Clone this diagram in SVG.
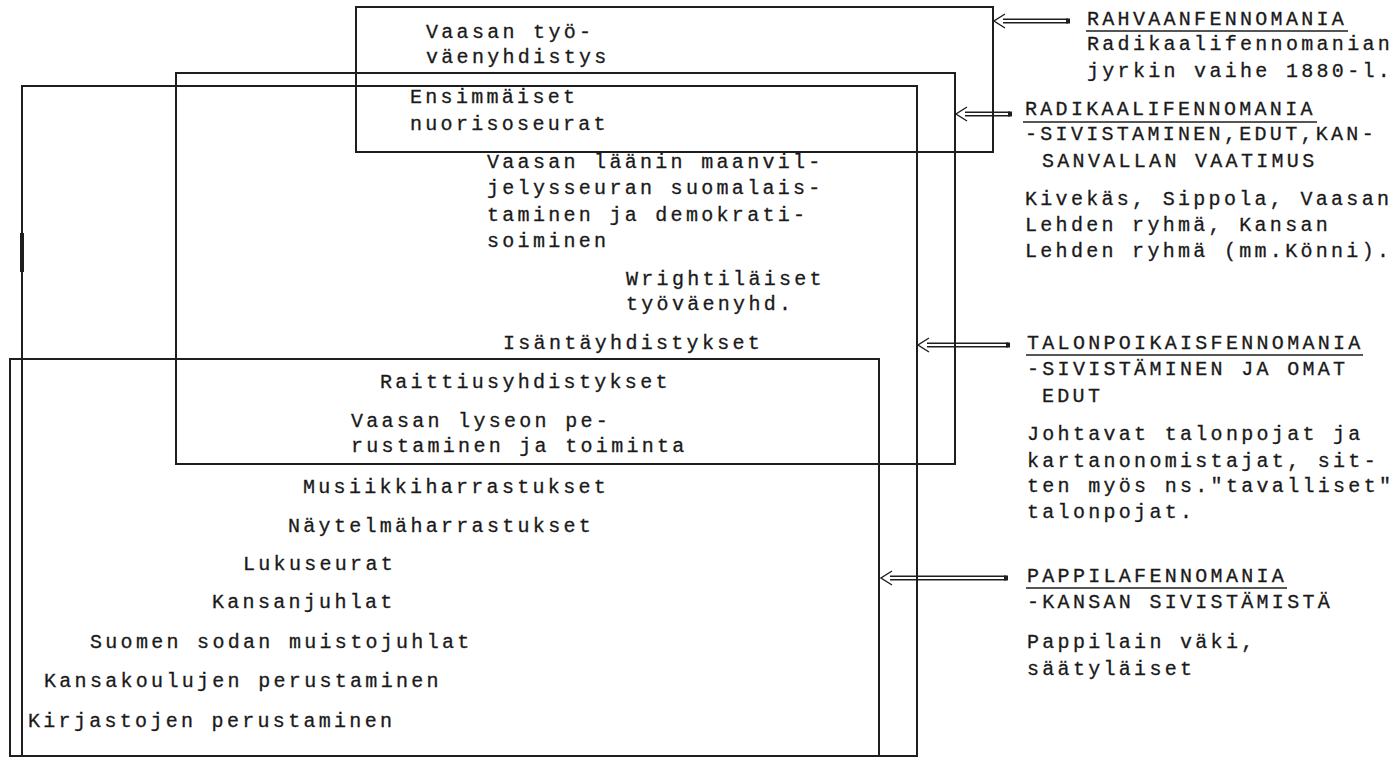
<svg xmlns="http://www.w3.org/2000/svg" width="1400" height="760" viewBox="0 0 1400 760">
<style>
  .box { fill: none; stroke: #1e1e1e; stroke-width: 2; }
  .t { font-family: "Liberation Mono", "DejaVu Sans Mono", monospace; font-size: 20px; letter-spacing: 3.3px; fill: #1a1a1a; stroke: #1a1a1a; stroke-width: 0.3; }
  .ul { stroke: #1e1e1e; stroke-width: 1.6; }
  .arr { fill: none; stroke: #1e1e1e; stroke-width: 1.4; }
  .tail { fill: #1e1e1e; }
</style>
<rect width="1400" height="760" fill="#ffffff"/>

<g id="pappilafennomania">
  <rect class="box" x="10" y="359" width="869" height="397"/>
  <text class="t" x="303" y="493">Musiikkiharrastukset</text>
  <text class="t" x="288" y="532">Näytelmäharrastukset</text>
  <text class="t" x="243" y="570">Lukuseurat</text>
  <text class="t" x="212" y="608">Kansanjuhlat</text>
  <text class="t" x="90" y="648">Suomen sodan muistojuhlat</text>
  <text class="t" x="44" y="687">Kansakoulujen perustaminen</text>
  <text class="t" x="28" y="727">Kirjastojen perustaminen</text>
</g>

<g id="talonpoikaisfennomania">
  <rect class="box" x="22" y="86" width="895" height="670"/>
  <line x1="22" y1="233" x2="22" y2="272" stroke="#1e1e1e" stroke-width="4"/>
</g>

<g id="radikaalifennomania">
  <rect class="box" x="176" y="73" width="779" height="391"/>
  <text class="t" x="487" y="168">Vaasan läänin maanvil-</text>
  <text class="t" x="487" y="194">jelysseuran suomalais-</text>
  <text class="t" x="487" y="221">taminen ja demokrati-</text>
  <text class="t" x="487" y="247">soiminen</text>
  <text class="t" x="626" y="285">Wrightiläiset</text>
  <text class="t" x="626" y="310">työväenyhd.</text>
  <text class="t" x="503" y="349">Isäntäyhdistykset</text>
  <text class="t" x="380" y="388">Raittiusyhdistykset</text>
  <text class="t" x="351" y="427">Vaasan lyseon pe-</text>
  <text class="t" x="351" y="452">rustaminen ja toiminta</text>
</g>

<g id="rahvaanfennomania">
  <rect class="box" x="356" y="7" width="637" height="145"/>
  <text class="t" x="426" y="38">Vaasan työ-</text>
  <text class="t" x="426" y="63">väenyhdistys</text>
  <text class="t" x="410" y="103">Ensimmäiset</text>
  <text class="t" x="410" y="130">nuorisoseurat</text>
</g>

<g id="connectors">
  <g id="arrow-rahvaan">
    <path class="arr" d="M1003 19.3 H1068 M1003 22.7 H1068 M1005 14 L994 21 L1005 28"/>
    <rect class="tail" x="1066" y="18.5" width="4" height="5"/>
  </g>
  <g id="arrow-radikaali">
    <path class="arr" d="M965 112.3 H1010 M965 115.7 H1010 M967 107 L956 114 L967 121"/>
    <rect class="tail" x="1008" y="111.5" width="4" height="5"/>
  </g>
  <g id="arrow-talonpoikais">
    <path class="arr" d="M927 343.3 H1008 M927 346.7 H1008 M929 338 L918 345 L929 352"/>
    <rect class="tail" x="1006" y="342.5" width="4" height="5"/>
  </g>
  <g id="arrow-pappila">
    <path class="arr" d="M890 576.3 H1006 M890 579.7 H1006 M892 571 L881 578 L892 585"/>
    <rect class="tail" x="1004" y="575.5" width="4" height="5"/>
  </g>
</g>

<g id="label-rahvaan">
  <text class="t" x="1087" y="25">RAHVAANFENNOMANIA</text>
  <line class="ul" x1="1086" y1="31" x2="1348" y2="31"/>
  <text class="t" x="1087" y="50">Radikaalifennomanian</text>
  <text class="t" x="1087" y="77">jyrkin vaihe 1880-l.</text>
</g>

<g id="label-radikaali">
  <text class="t" x="1025" y="115">RADIKAALIFENNOMANIA</text>
  <line class="ul" x1="1023" y1="122" x2="1317" y2="122"/>
  <text class="t" x="1025" y="140">-SIVISTAMINEN,EDUT,KAN-</text>
  <text class="t" x="1042" y="167">SANVALLAN VAATIMUS</text>
  <text class="t" x="1025" y="205">Kivekäs, Sippola, Vaasan</text>
  <text class="t" x="1025" y="231">Lehden ryhmä, Kansan</text>
  <text class="t" x="1025" y="257">Lehden ryhmä (mm.Könni).</text>
</g>

<g id="label-talonpoikais">
  <text class="t" x="1027" y="349">TALONPOIKAISFENNOMANIA</text>
  <line class="ul" x1="1026" y1="355" x2="1363" y2="355"/>
  <text class="t" x="1027" y="375">-SIVISTÄMINEN JA OMAT</text>
  <text class="t" x="1042" y="402">EDUT</text>
  <text class="t" x="1027" y="440">Johtavat talonpojat ja</text>
  <text class="t" x="1027" y="467">kartanonomistajat, sit-</text>
  <text class="t" x="1027" y="492">ten myös ns.&quot;tavalliset&quot;</text>
  <text class="t" x="1027" y="518">talonpojat.</text>
</g>

<g id="label-pappila">
  <text class="t" x="1027" y="582">PAPPILAFENNOMANIA</text>
  <line class="ul" x1="1026" y1="588" x2="1287" y2="588"/>
  <text class="t" x="1027" y="608">-KANSAN SIVISTÄMISTÄ</text>
  <text class="t" x="1027" y="648">Pappilain väki,</text>
  <text class="t" x="1027" y="675">säätyläiset</text>
</g>
</svg>
